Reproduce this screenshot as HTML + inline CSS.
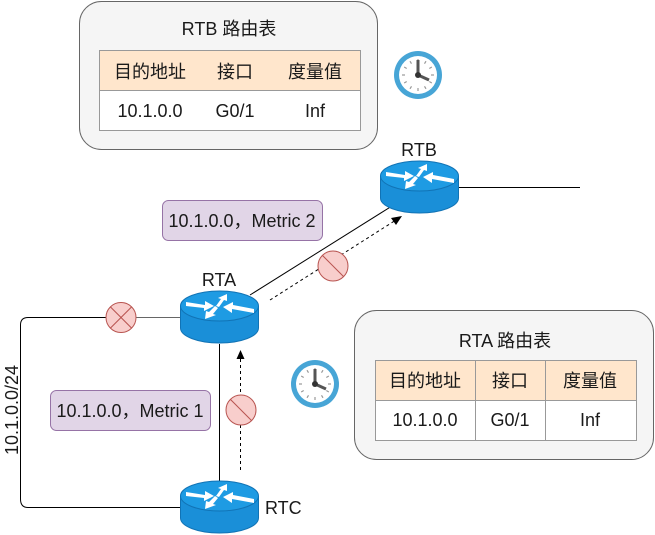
<!DOCTYPE html>
<html><head><meta charset="utf-8"><style>
html,body{margin:0;padding:0;background:#fff;}
svg{display:block;}
text{font-family:"Liberation Sans","Noto Sans CJK SC",sans-serif;fill:#1a1a1a;}
</style></head><body>
<svg width="655" height="535" viewBox="0 0 655 535" xmlns="http://www.w3.org/2000/svg">
<defs>
<g id="router">
  <ellipse cx="39.5" cy="38" rx="39" ry="15" fill="#1a8fd8" stroke="#1173b5" stroke-width="1"/>
  <rect x="0.5" y="16" width="78" height="22" fill="#1a8fd8"/>
  <line x1="0.5" y1="16" x2="0.5" y2="38" stroke="#1173b5"/>
  <line x1="78.5" y1="16" x2="78.5" y2="38" stroke="#1173b5"/>
  <ellipse cx="39.5" cy="16" rx="39" ry="15" fill="#1e9be3" stroke="#1173b5" stroke-width="1"/>
  <g fill="#fff" stroke="none">
    <polygon points="6,12 25,15 25,11 34,16 24,21 24,18 6,16"/>
    <polygon points="36,16 41,9 38,8 47,4 47,11 44,10 39,17"/>
    <polygon points="74,23 52,19 52,23 43,17 53,12 53,15 74,19"/>
    <polygon points="38,18 33,24 36,25 25,29 26,21 29,22 35,16"/>
  </g>
</g>
<g id="clock">
  <circle r="24" fill="#47a5d6"/>
  <circle r="19" fill="#fff"/>
  <g stroke="#999" stroke-width="1.2">
    <line x1="0" y1="-16" x2="0" y2="-13"/><line x1="0" y1="16" x2="0" y2="13"/>
    <line x1="-16" y1="0" x2="-13" y2="0"/><line x1="16" y1="0" x2="13" y2="0"/>
    <line x1="8" y1="-13.8" x2="6.5" y2="-11.3"/><line x1="13.8" y1="-8" x2="11.3" y2="-6.5"/>
    <line x1="-8" y1="13.8" x2="-6.5" y2="11.3"/><line x1="-13.8" y1="8" x2="-11.3" y2="6.5"/>
    <line x1="-8" y1="-13.8" x2="-6.5" y2="-11.3"/><line x1="-13.8" y1="-8" x2="-11.3" y2="-6.5"/>
    <line x1="8" y1="13.8" x2="6.5" y2="11.3"/><line x1="13.8" y1="8" x2="11.3" y2="6.5"/>
  </g>
  <line x1="0" y1="0" x2="0" y2="-15" stroke="#555" stroke-width="3"/>
  <line x1="0" y1="0" x2="11" y2="5" stroke="#555" stroke-width="3"/>
  <circle r="3" fill="#333"/>
</g>
</defs>

<!-- RTB table box -->
<rect x="79.5" y="1.5" width="298" height="148" rx="22" fill="#f5f5f5" stroke="#666"/>
<text x="229" y="35" font-size="18" text-anchor="middle">RTB 路由表</text>
<rect x="99.5" y="50.5" width="261" height="40" fill="#ffe6cc" stroke="#999"/>
<rect x="99.5" y="90.5" width="261" height="40" fill="#fff" stroke="#999"/>
<text x="150" y="78" font-size="18" text-anchor="middle">目的地址</text>
<text x="235" y="78" font-size="18" text-anchor="middle">接口</text>
<text x="315" y="78" font-size="18" text-anchor="middle">度量值</text>
<text x="150" y="117" font-size="18" text-anchor="middle">10.1.0.0</text>
<text x="235" y="117" font-size="18" text-anchor="middle">G0/1</text>
<text x="315" y="117" font-size="18" text-anchor="middle">Inf</text>
<use href="#clock" x="418" y="75"/>

<!-- RTA table box -->
<rect x="354.5" y="310.5" width="299" height="149" rx="22" fill="#f5f5f5" stroke="#666"/>
<text x="505" y="347" font-size="18" text-anchor="middle">RTA 路由表</text>
<rect x="375.5" y="360.5" width="261" height="40" fill="#ffe6cc" stroke="#999"/>
<rect x="375.5" y="400.5" width="261" height="40" fill="#fff" stroke="#999"/>
<line x1="475.5" y1="360" x2="475.5" y2="441" stroke="#999"/>
<line x1="545.5" y1="360" x2="545.5" y2="441" stroke="#999"/>
<text x="425" y="387" font-size="18" text-anchor="middle">目的地址</text>
<text x="510" y="387" font-size="18" text-anchor="middle">接口</text>
<text x="590" y="387" font-size="18" text-anchor="middle">度量值</text>
<text x="425" y="426" font-size="18" text-anchor="middle">10.1.0.0</text>
<text x="510" y="426" font-size="18" text-anchor="middle">G0/1</text>
<text x="590" y="426" font-size="18" text-anchor="middle">Inf</text>
<use href="#clock" x="315" y="384"/>

<!-- connections -->
<line x1="459" y1="187.5" x2="580" y2="187.5" stroke="#000"/>
<line x1="250" y1="295" x2="392" y2="206" stroke="#000"/>
<line x1="270" y1="300" x2="396" y2="220" stroke="#000" stroke-dasharray="3,3"/>
<polygon points="402,216 391,218 396,225" fill="#000"/>
<path d="M180,317.5 H28 Q20.5,317.5 20.5,325 V499 Q20.5,507.5 28,507.5 H180" fill="none" stroke="#000"/>
<line x1="180" y1="317.5" x2="136" y2="317.5" stroke="#666"/>
<line x1="219.5" y1="344" x2="219.5" y2="482" stroke="#000"/>
<line x1="240.5" y1="470" x2="240.5" y2="358" stroke="#000" stroke-dasharray="3,3"/>
<polygon points="240.5,350 236.5,359 244.5,359" fill="#000"/>

<!-- blocked markers -->
<circle cx="121" cy="317.5" r="15" fill="#f8cecc" stroke="#b85450"/>
<line x1="110.4" y1="306.9" x2="131.6" y2="328.1" stroke="#b85450"/>
<line x1="131.6" y1="306.9" x2="110.4" y2="328.1" stroke="#b85450"/>
<circle cx="333" cy="266" r="15" fill="#f8cecc" stroke="#b85450"/>
<line x1="322.4" y1="255.4" x2="343.6" y2="276.6" stroke="#b85450"/>
<circle cx="241" cy="410" r="15" fill="#f8cecc" stroke="#b85450"/>
<line x1="230.4" y1="399.4" x2="251.6" y2="420.6" stroke="#b85450"/>

<!-- labels -->
<rect x="162.5" y="200.5" width="160" height="40" rx="6" fill="#e1d5e7" stroke="#9673a6"/>
<text x="242" y="227" font-size="18" text-anchor="middle">10.1.0.0，Metric 2</text>
<rect x="50.5" y="390.5" width="160" height="40" rx="6" fill="#e1d5e7" stroke="#9673a6"/>
<text x="130" y="417" font-size="18" text-anchor="middle">10.1.0.0，Metric 1</text>
<text x="0" y="0" font-size="18" text-anchor="middle" transform="translate(18,410) rotate(-90)">10.1.0.0/24</text>

<!-- routers -->
<use href="#router" x="380" y="160"/>
<text x="419" y="156" font-size="18" text-anchor="middle">RTB</text>
<use href="#router" x="180" y="290"/>
<text x="219" y="286" font-size="18" text-anchor="middle">RTA</text>
<use href="#router" x="180" y="480"/>
<text x="265" y="514" font-size="18">RTC</text>
</svg>
</body></html>
